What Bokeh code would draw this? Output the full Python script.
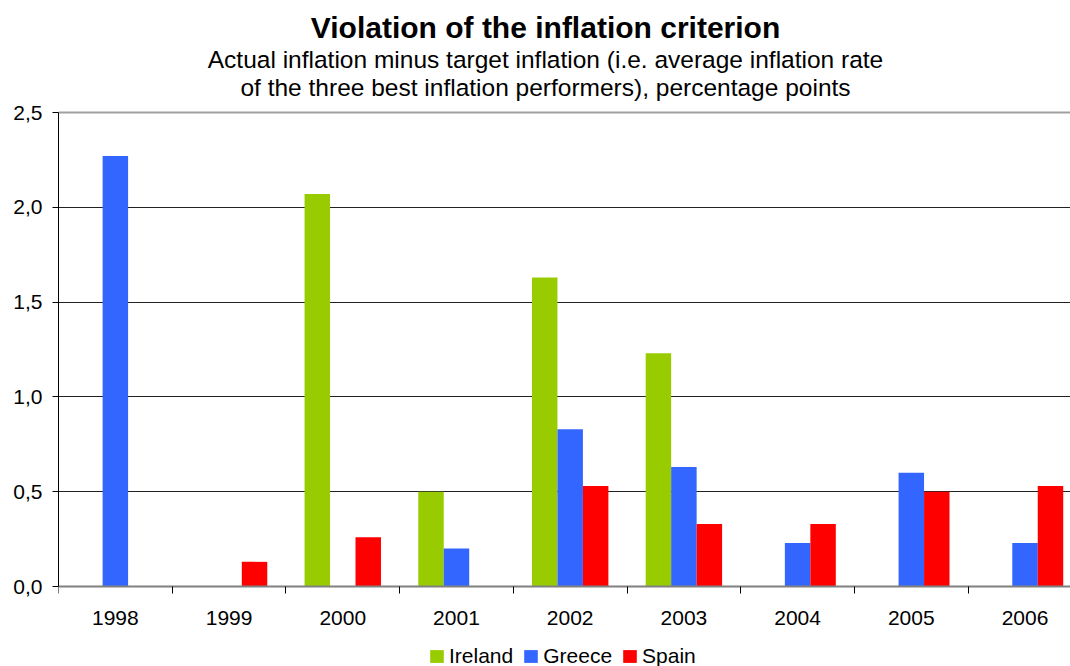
from bokeh.plotting import figure
from bokeh.models import (Range1d, FixedTicker, Label, Legend, LegendItem,
                          ColumnDataSource, Grid)
from bokeh.transform import dodge
from bokeh.embed import file_html
from bokeh.resources import INLINE

# Data: inflation above the reference value, percentage points
years = [1998, 1999, 2000, 2001, 2002, 2003, 2004, 2005, 2006]
ireland = [0.0, 0.0, 2.07, 0.50, 1.63, 1.23, 0.0, 0.0, 0.0]
greece = [2.27, 0.0, 0.0, 0.20, 0.83, 0.63, 0.23, 0.60, 0.23]
spain = [0.0, 0.13, 0.26, 0.0, 0.53, 0.33, 0.33, 0.50, 0.53]

y_ticks = [0.0, 0.5, 1.0, 1.5, 2.0, 2.5]
y_tick_labels = ["0,0", "0,5", "1,0", "1,5", "2,0", "2,5"]

series = [("Ireland", ireland, "#99CC00"),
          ("Greece", greece, "#3366FF"),
          ("Spain", spain, "#FF0000")]

FONT = "Liberation Sans"
BAR_W = 0.224

W, H = 1070, 666
LEFT = 58            # frame starts right of the value axis
TOP, ZERO = 112, 586  # canvas rows of 2,5 and 0,0
PX = (ZERO - TOP) / 2.5

src = ColumnDataSource(dict(year=years, Ireland=ireland, Greece=greece, Spain=spain))

# The frame fills the canvas vertically so the heading and key can live inside it;
# the value range is padded so 0..2,5 lands on the usual rows.
p = figure(width=W, height=H, output_backend="svg", toolbar_location=None,
           x_range=Range1d(years[0] - 0.5, years[0] - 0.5 + 8.9),
           y_range=Range1d(-(H - ZERO) / PX, 2.5 + TOP / PX),
           min_border_left=LEFT, min_border_right=0, min_border_top=0,
           min_border_bottom=0, title=None)
p.outline_line_color = None
p.background_fill_color = "white"
p.border_fill_color = "white"

renderers = []
for i, (name, vals, color) in enumerate(series):
    r = p.vbar(x=dodge("year", (i - 1) * BAR_W, range=p.x_range), top=name, width=BAR_W,
               bottom=0, source=src, fill_color=color, line_color=None)
    renderers.append((name, r))

# Grid: dark lines inside, a lighter one along the top value
p.xgrid.grid_line_color = None
p.ygrid.grid_line_color = "#222222"
p.ygrid.grid_line_width = 1
p.ygrid.ticker = FixedTicker(ticks=y_ticks[1:-1])
p.add_layout(Grid(dimension=1, ticker=FixedTicker(ticks=y_ticks[-1:]),
                  grid_line_color="#a0a0a0", grid_line_width=2))

# Category axis pinned at zero; ticks between the years, labels under each year
xa = p.xaxis[0]
xa.fixed_location = 0
xa.ticker = FixedTicker(ticks=years, minor_ticks=[y - 0.5 for y in years] + [years[-1] + 0.5])
xa.major_tick_out = 0
xa.major_tick_in = 0
xa.minor_tick_out = 7
xa.minor_tick_in = 0
xa.minor_tick_line_color = "black"
xa.axis_line_color = "#808080"
xa.axis_line_width = 2
xa.major_label_text_font = FONT
xa.major_label_text_font_size = "21px"
xa.major_label_text_color = "black"
xa.major_label_standoff = 17
xa.major_label_overrides = {y: str(y) for y in years}

ya = p.yaxis[0]
ya.bounds = (0, 2.5)
ya.ticker = FixedTicker(ticks=y_ticks)
ya.major_label_overrides = dict(zip(y_ticks, y_tick_labels))
ya.major_tick_out = 6
ya.major_tick_in = 0
ya.minor_tick_out = 0
ya.minor_tick_in = 0
ya.axis_line_color = "black"
ya.major_tick_line_color = "black"
ya.major_label_text_font = FONT
ya.major_label_text_font_size = "21px"
ya.major_label_text_color = "black"
ya.major_label_standoff = 10

# Heading (screen units from the frame's bottom-left corner)
cx = 545 - LEFT
for text, size, style, row in [
        ("Violation of the inflation criterion", "30px", "bold", 27),
        ("Actual inflation minus target inflation (i.e. average inflation rate", "24.5px", "normal", 59),
        ("of the three best inflation performers), percentage points", "24.5px", "normal", 87)]:
    p.add_layout(Label(x=cx, y=H - row, x_units="screen", y_units="screen",
                       text=text, text_align="center", text_baseline="alphabetic",
                       text_font=FONT, text_font_size=size, text_font_style=style,
                       text_color="black"))

legend = Legend(items=[LegendItem(label=n, renderers=[r]) for n, r in renderers],
                orientation="horizontal", location=(428 - LEFT, -2),
                glyph_width=17, glyph_height=16, label_standoff=4, spacing=9,
                padding=0, margin=0, border_line_color=None, background_fill_alpha=0,
                label_text_font=FONT, label_text_font_size="21px",
                label_text_color="black", label_height=16)
p.add_layout(legend, "center")

open("out.html", "w").write(file_html(p, INLINE))
